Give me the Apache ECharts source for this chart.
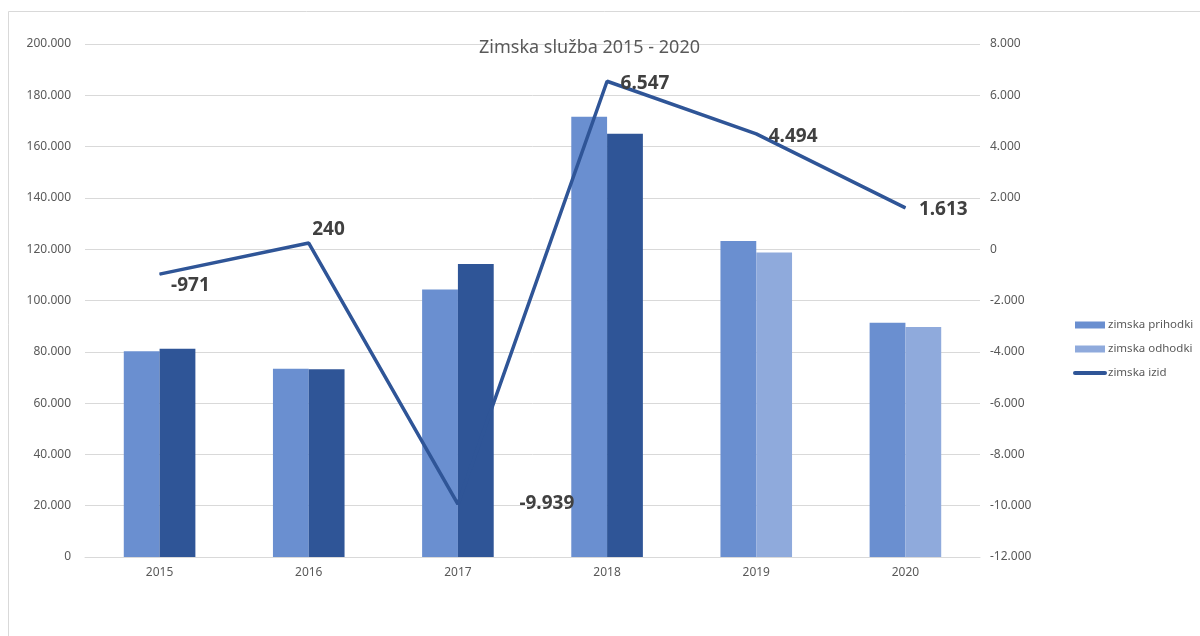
<!DOCTYPE html>
<html>
<head>
<meta charset="utf-8">
<script src="https://cdn.jsdelivr.net/npm/echarts@6/dist/echarts.min.js"></script>
<style>
  html, body { margin:0; padding:0; background:#fff; }
  #chart { width:1200px; height:636px; }
</style>
</head>
<body>
<div id="chart"></div>
<script>
// chart data
var years    = ['2015', '2016', '2017', '2018', '2019', '2020'];
var prihodki = [80200, 73400, 104300, 171600, 123200, 91300];
var odhodki  = [81171, 73160, 114239, 165053, 118706, 89687];
var izid     = [-971, 240, -9939, 6547, 4494, 1613];

var leftTicks  = { min: 0, max: 200000, interval: 20000 };
var rightTicks = { min: -12000, max: 8000, interval: 2000 };

var colPrih = '#6a8fd0';
var colOdhDark = '#2f5597';
var colOdhLight = '#8faadc';
var colIzid = '#2f5597';
var txt = '#595959';

// 1.234 style numbers
function fmt(v){
	var s = String(Math.abs(Math.round(v))).replace(/\B(?=(\d{3})+(?!\d))/g, '.');
	return (v < 0 ? '-' : '') + s;
}

var chart = echarts.init(document.getElementById('chart'));

// labels of the line sit to the right of the point, some a bit moved
var izidLabel = [
	{ position: 'right', offset: [6, 11] },
	{ position: 'right', offset: [-2, -13] },
	{ position: 'right', offset: [56, -1] },
	{ position: 'right', offset: [8, 2] },
	{ position: 'right', offset: [7, 3] },
	{ position: 'right', offset: [8, 2] }
];

var option = {
	backgroundColor: '#fff',
	animation: false,
	textStyle: { fontFamily: 'Noto Sans' },
	title: {
		text: 'Zimska služba 2015 - 2020',
		left: 474,
		top: 34,
		textStyle: { color: txt, fontSize: 18, fontWeight: 'normal', fontFamily: 'Noto Sans' }
	},
	graphic: [{
		type: 'rect',
		silent: true,
		shape: { x: 8.5, y: 11.5, width: 1300, height: 800 },
		style: { fill: 'none', stroke: '#d9d9d9', lineWidth: 1 }
	}],
	legend: {
		orient: 'vertical',
		left: 1068,
		top: 314,
		itemWidth: 30,
		itemHeight: 7,
		itemGap: 12,
		textStyle: { color: txt, fontSize: 11.5, padding: [0, 0, 0, -2] },
		data: [
			{ name: 'zimska prihodki', icon: 'rect' },
			{ name: 'zimska odhodki', icon: 'rect' },
			{ name: 'zimska izid', itemStyle: { opacity: 0 }, lineStyle: { width: 4, cap: 'round' } }
		]
	},
	grid: { left: 85, right: 220, top: 44, bottom: 79 },
	xAxis: {
		type: 'category',
		data: years,
		axisLine: { lineStyle: { color: '#d9d9d9' } },
		axisTick: { show: false },
		axisLabel: { color: txt, fontSize: 12, margin: 10 }
	},
	yAxis: [{
		type: 'value',
		min: leftTicks.min,
		max: leftTicks.max,
		interval: leftTicks.interval,
		axisLine: { show: false },
		axisTick: { show: false },
		splitLine: { lineStyle: { color: '#d9d9d9' } },
		axisLabel: { color: txt, fontSize: 12, margin: 14, formatter: fmt }
	}, {
		type: 'value',
		min: rightTicks.min,
		max: rightTicks.max,
		interval: rightTicks.interval,
		axisLine: { show: false },
		axisTick: { show: false },
		splitLine: { show: false },
		axisLabel: { color: txt, fontSize: 12, margin: 10, formatter: fmt }
	}],
	series: [{
		name: 'zimska prihodki',
		type: 'bar',
		barGap: 0,
		barCategoryGap: '52%',
		itemStyle: { color: colPrih },
		data: prihodki
	}, {
		name: 'zimska odhodki',
		type: 'bar',
		barGap: 0,
		barCategoryGap: '52%',
		itemStyle: { color: colOdhLight },
		data: odhodki.map(function(v, i){
			return i < 4 ? { value: v, itemStyle: { color: colOdhDark } } : v;
		})
	}, {
		name: 'zimska izid',
		type: 'line',
		yAxisIndex: 1,
		symbol: 'circle',
		symbolSize: 1,
		itemStyle: { color: colIzid },
		lineStyle: { color: colIzid, width: 3.5 },
		label: {
			show: true,
			color: '#404040',
			fontSize: 19,
			fontWeight: 'bold',
			formatter: function(p){ return fmt(p.value); }
		},
		data: izid.map(function(v, i){
			return { value: v, label: izidLabel[i] };
		})
	}]
};
chart.setOption(option);
</script>
</body>
</html>
